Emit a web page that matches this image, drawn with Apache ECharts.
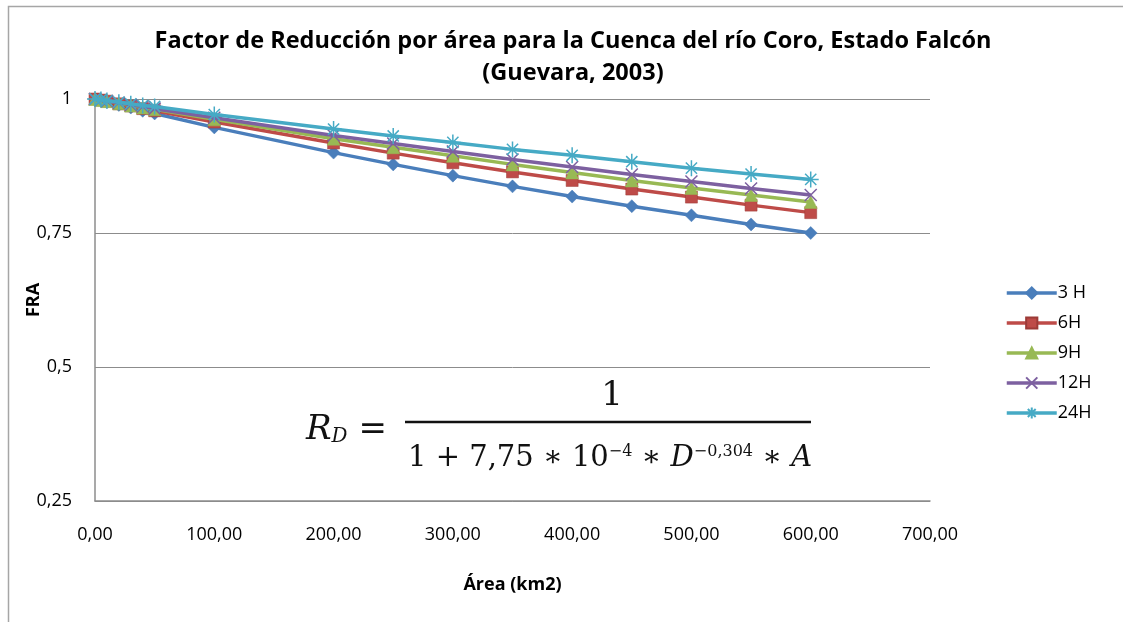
<!DOCTYPE html>
<html>
<head>
<meta charset="utf-8">
<script src="https://cdn.jsdelivr.net/npm/echarts@6/dist/echarts.min.js"></script>
<style>html,body{margin:0;padding:0;background:#fff;}#c{width:1123px;height:622px;}</style>
</head>
<body>
<div id="c"></div>
<script>
const areas = [0, 5, 10, 20, 30, 40, 50, 100, 200, 250, 300, 350, 400, 450, 500, 550, 600];
const seriesNames = ['3 H', '6H', '9H', '12H', '24H'];
const h3  = [1, 0.997, 0.994, 0.989, 0.984, 0.978, 0.973, 0.947, 0.900, 0.878, 0.857, 0.837, 0.818, 0.800, 0.783, 0.766, 0.750];
const h6  = [1, 0.998, 0.996, 0.991, 0.987, 0.982, 0.978, 0.957, 0.918, 0.899, 0.881, 0.864, 0.848, 0.832, 0.817, 0.802, 0.788];
const h9  = [1, 0.998, 0.996, 0.992, 0.988, 0.984, 0.981, 0.962, 0.926, 0.910, 0.894, 0.878, 0.863, 0.848, 0.834, 0.821, 0.808];
const h12 = [1, 0.998, 0.996, 0.993, 0.989, 0.986, 0.982, 0.965, 0.932, 0.917, 0.902, 0.887, 0.873, 0.859, 0.846, 0.833, 0.821];
const h24 = [1, 0.999, 0.997, 0.994, 0.991, 0.988, 0.986, 0.971, 0.944, 0.931, 0.919, 0.906, 0.895, 0.883, 0.871, 0.860, 0.850];
const xTicks = [0, 100, 200, 300, 400, 500, 600, 700];
const yTicks = [0.25, 0.5, 0.75, 1];

const colors = ['#4A7EBB', '#BE4B48', '#98B954', '#7D60A0', '#46AAC5'];
const values = [h3, h6, h9, h12, h24];
const xSym = 'path://M0,0 L10,10 M10,0 L0,10';
const starSym = 'path://M5,0 L5,10 M0,5 L10,5 M1.5,1.5 L8.5,8.5 M8.5,1.5 L1.5,8.5';
const symbols = ['diamond', 'rect', 'triangle', xSym, starSym];
const sizes = [13, 12, 13, 12, 16];

const chart = echarts.init(document.getElementById('c'), null, {renderer: 'canvas'});
const series = seriesNames.map((n, i) => {
  const stroke = i >= 3;
  return {
    name: n,
    type: 'line',
    data: areas.map((a, j) => [a, values[i][j]]),
    symbol: symbols[i],
    symbolSize: sizes[i],
    showAllSymbol: true,
    lineStyle: {color: colors[i], width: 3.5},
    itemStyle: stroke ? {color: 'rgba(0,0,0,0)', borderColor: colors[i], borderWidth: 1.5}
                      : {color: colors[i], borderColor: i === 1 ? '#9c3a37' : colors[i], borderWidth: 0.5},
    emphasis: {disabled: true},
    animation: false,
    z: 2 + i
  };
});

const ff = '"Open Sans", Lato, sans-serif';
chart.setOption({
  backgroundColor: '#fff',
  animation: false,
  title: {
    text: 'Factor de Reducción por área para la Cuenca del río Coro, Estado Falcón\n(Guevara, 2003)',
    left: 568, top: 20, textAlign: 'center',
    textStyle: {fontFamily: ff, fontWeight: 'bold', fontSize: 23.5, lineHeight: 32, color: '#000'}
  },
  legend: {
    orient: 'vertical', left: 1000, top: 279, itemGap: 12, itemWidth: 50, itemHeight: 14,
    data: seriesNames,
    lineStyle: {width: 3.5},
    textStyle: {fontFamily: ff, fontSize: 18, color: '#000', padding: [0, 0, 0, -4]}
  },
  grid: {left: 95, right: 193, top: 99, bottom: 121, containLabel: false},
  xAxis: {
    type: 'value', min: 0, max: 700, interval: 100,
    name: 'Área (km2)', nameLocation: 'middle', nameGap: 75, nameMoveOverlap: false,
    nameTextStyle: {fontFamily: ff, fontWeight: 'bold', fontSize: 18, color: '#000'},
    axisLine: {show: true, onZero: false, lineStyle: {color: '#8c8c8c', width: 1.5}},
    axisTick: {show: false},
    axisLabel: {fontFamily: ff, fontSize: 18, color: '#000', margin: 25,
      formatter: v => v.toFixed(2).replace('.', ',')},
    splitLine: {show: false}
  },
  yAxis: {
    type: 'value', min: 0.25, max: 1, interval: 0.25,
    name: 'FRA', nameLocation: 'middle', nameGap: 52, nameMoveOverlap: false,
    nameTextStyle: {fontFamily: ff, fontWeight: 'bold', fontSize: 18, color: '#000'},
    axisLine: {show: true, lineStyle: {color: '#8c8c8c', width: 1.5}},
    axisTick: {show: false},
    axisLabel: {fontFamily: ff, fontSize: 18, color: '#000', margin: 23,
      formatter: v => String(+v.toFixed(2)).replace('.', ',')},
    splitLine: {show: true, lineStyle: {color: '#8c8c8c', width: 1}}
  },
  graphic: [
    {type: 'rect', shape: {x: 8.5, y: 6.5, width: 1130, height: 630}, style: {fill: 'none', stroke: '#a6a6a6', lineWidth: 1.5}, silent: true},
    {type: 'text', x: 306, y: 430, style: {
      text: '{i|R}{s|D}{n| =}', textVerticalAlign: 'middle',
      rich: {
        i: {fontFamily: '"DejaVu Serif", serif', fontStyle: 'italic', fontSize: 34, fill: '#111'},
        s: {fontFamily: '"DejaVu Serif", serif', fontStyle: 'italic', fontSize: 20, fill: '#111', verticalAlign: 'bottom'},
        n: {fontFamily: '"DejaVu Serif", serif', fontSize: 34, fill: '#111'}
      }}},
    {type: 'text', x: 612, y: 396, style: {text: '1', textAlign: 'center', textVerticalAlign: 'middle',
      font: '34px "DejaVu Serif", serif', fill: '#111'}},
    {type: 'line', shape: {x1: 405, y1: 422, x2: 811, y2: 422}, style: {stroke: '#111', lineWidth: 2.5}},
    {type: 'text', x: 408, y: 458, style: {
      text: '{n|1 + 7,75 ∗ 10}{p|−4}{n| ∗ }{i|D}{p|−0,304}{n| ∗ }{i|A}', textVerticalAlign: 'middle',
      rich: {
        n: {fontFamily: '"DejaVu Serif", serif', fontSize: 29, fill: '#111'},
        i: {fontFamily: '"DejaVu Serif", serif', fontStyle: 'italic', fontSize: 29, fill: '#111'},
        p: {fontFamily: '"DejaVu Serif", serif', fontSize: 16, fill: '#111', verticalAlign: 'top'}
      }}}
  ],
  series: series
});
</script>
</body>
</html>
